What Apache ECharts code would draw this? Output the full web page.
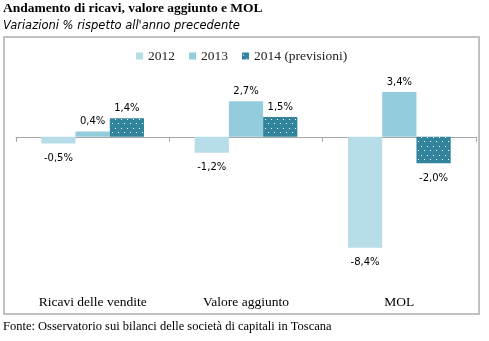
<!DOCTYPE html>
<html><head><meta charset="utf-8">
<script src="https://cdn.jsdelivr.net/npm/echarts@6/dist/echarts.min.js"></script>
<style>html,body{margin:0;padding:0;background:#fff}#c{width:489px;height:341px}</style>
</head><body><div id="c"></div>
<script>
var categories = ['Ricavi delle vendite', 'Valore aggiunto', 'MOL'];
var seriesNames = ['2012', '2013', '2014 (previsioni)'];
var v2012 = [-0.5, -1.2, -8.4];
var v2013 = [0.4, 2.7, 3.4];
var v2014 = [1.4, 1.5, -2.0];

function dotPattern() {
  var c = document.createElement('canvas');
  c.width = 6; c.height = 9;
  var g = c.getContext('2d');
  g.fillStyle = '#31849B'; g.fillRect(0, 0, 6, 9);
  g.fillStyle = '#ffffff';
  g.fillRect(1, 2, 1, 1);
  g.fillRect(4, 6, 1, 1);
  return c;
}
var pat = { image: dotPattern(), repeat: 'repeat' };

var fmt = function (p) { return p.value.toFixed(1).replace('.', ',') + '%'; };
function mk(name, data, color) {
  return {
    name: name, type: 'bar', barGap: '0%', barCategoryGap: '33%',
    itemStyle: { color: color },
    label: { show: true, formatter: fmt, color: '#000', fontFamily: 'DejaVu Sans', fontSize: 10 },
    data: data.map(function (v) {
      return { value: v, label: v < 0 ? { position: 'bottom', distance: 10 } : { position: 'top', distance: 5 } };
    })
  };
}
var s1 = mk(seriesNames[0], v2012, '#B7DDE8');
var s2 = mk(seriesNames[1], v2013, '#93CDDD');
var s3 = mk(seriesNames[2], v2014, pat);

var chart = echarts.init(document.getElementById('c'), null, { renderer: 'canvas' });
chart.setOption({
  animation: false,
  title: [{
    text: 'Andamento di ricavi, valore aggiunto e MOL',
    subtext: "Variazioni % rispetto all'anno precedente",
    left: 3, top: 2, itemGap: 4, padding: 0,
    textStyle: { fontFamily: 'Liberation Serif', fontWeight: 'bold', fontSize: 13.5, color: '#000' },
    subtextStyle: { fontFamily: 'DejaVu Sans', fontStyle: 'italic', fontSize: 11.5, color: '#000' }
  }, {
    text: 'Fonte: Osservatorio sui bilanci delle società di capitali in Toscana',
    left: 3, top: 320, padding: 0,
    textStyle: { fontFamily: 'Liberation Serif', fontWeight: 'normal', fontSize: 12.5, color: '#000' }
  }],
  graphic: [{
    type: 'rect', shape: { x: 4, y: 37, width: 475, height: 277 },
    style: { fill: 'none', stroke: '#C0C0C0', lineWidth: 2 }, silent: true
  }],
  legend: {
    data: seriesNames, left: 131, top: 44, itemWidth: 7, itemHeight: 7, itemGap: 14,
    icon: 'rect',
    textStyle: { fontFamily: 'Liberation Serif', fontSize: 13.5, color: '#222' }
  },
  grid: { left: 16, right: 13, top: 84, height: 185 },
  xAxis: [{
    type: 'category', data: categories,
    axisLine: { show: false, onZero: false }, axisTick: { show: false },
    axisLabel: { margin: 26, fontFamily: 'Liberation Serif', fontSize: 13.5, color: '#000' }
  }, {
    type: 'category', data: categories, position: 'bottom',
    axisLine: { show: true, onZero: true, lineStyle: { color: '#A6A6A6', width: 1 } },
    axisTick: { show: true, length: 5, lineStyle: { color: '#A6A6A6' } },
    axisLabel: { show: false }
  }],
  yAxis: { type: 'value', min: -10, max: 4, show: false, splitLine: { show: false } },
  series: [s1, s2, s3]
});
</script></body></html>
